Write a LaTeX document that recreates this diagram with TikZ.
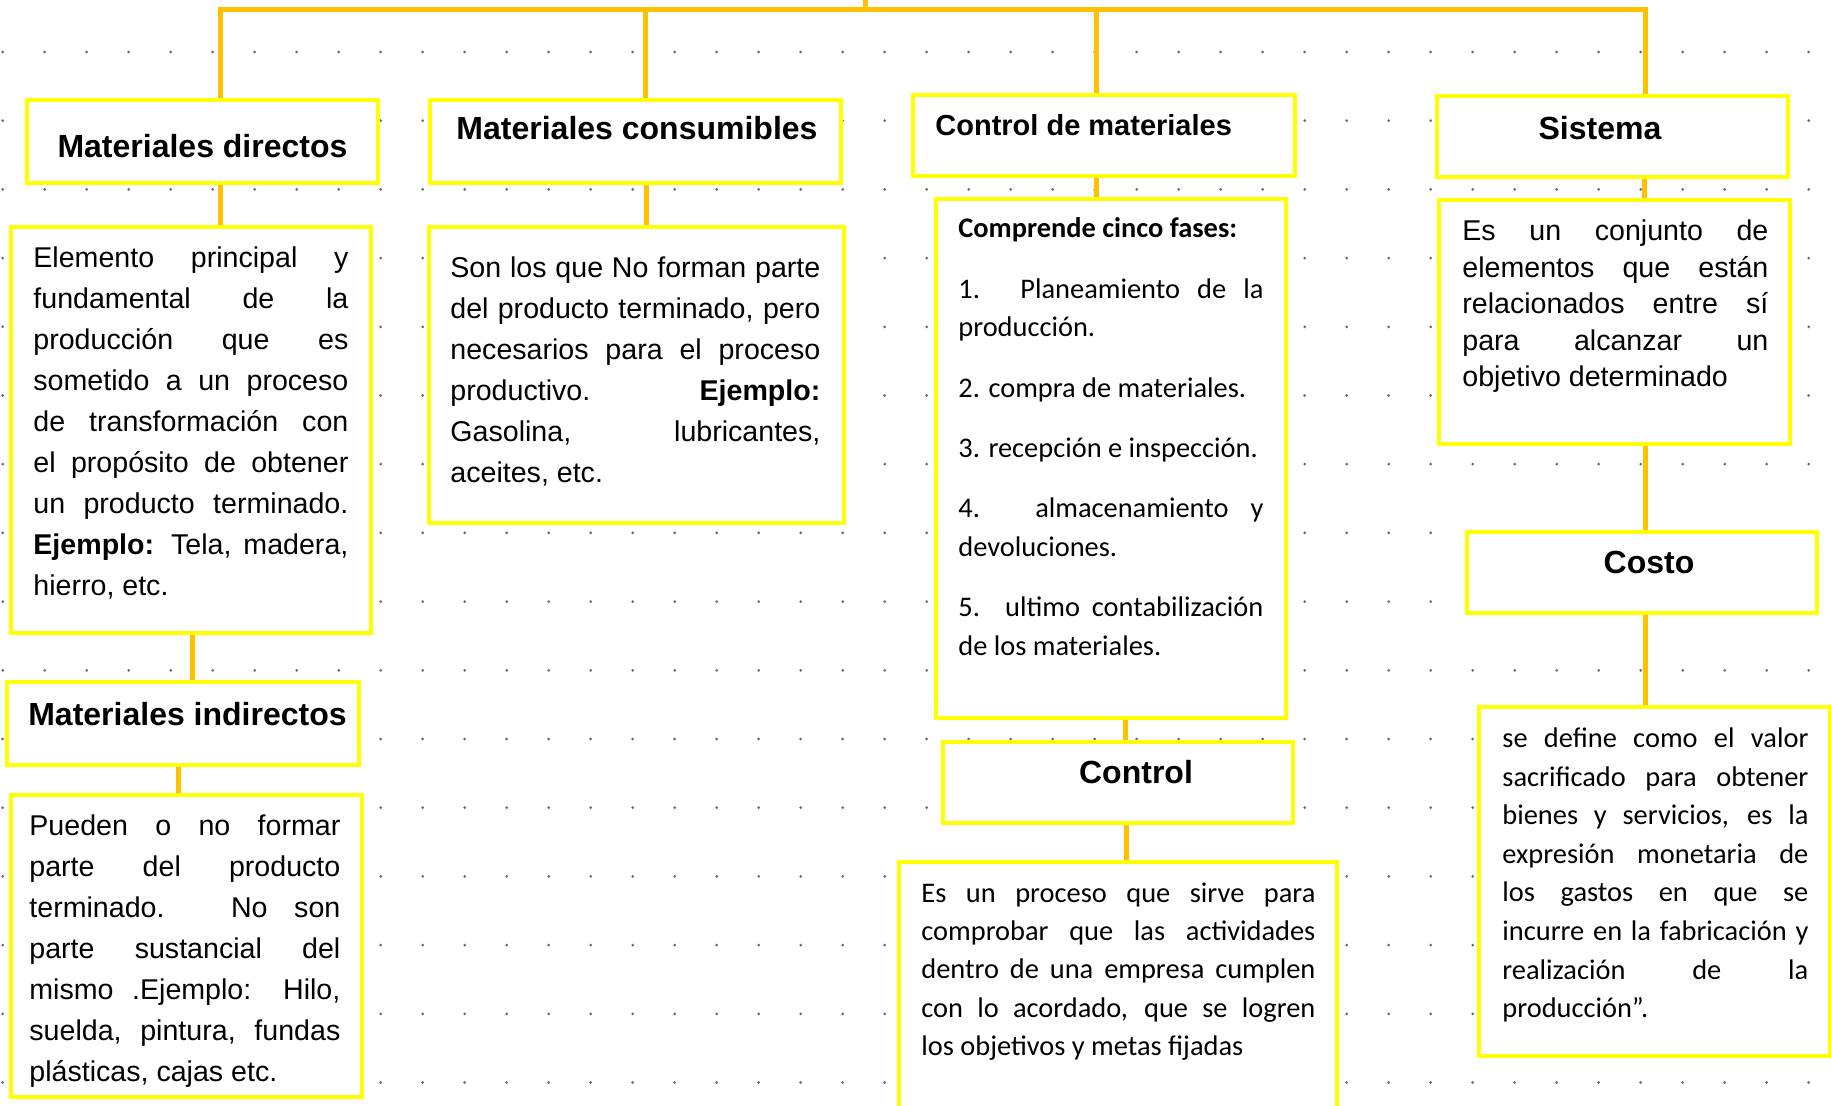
\documentclass[tikz,border=0pt]{standalone}
\usepackage{fontspec}
\setmainfont{Liberation Sans}
\newfontfamily\calibri{Carlito}
\usetikzlibrary{backgrounds}

\definecolor{amarillo}{HTML}{FFFF00}
\definecolor{naranja}{HTML}{FFC000}
\definecolor{punto}{HTML}{6A6A6A}

\tikzset{
  caja/.style={draw=amarillo, line width=2pt, fill=white, inner sep=0pt, outer sep=0pt},
  enlace/.style={draw=naranja, line width=2.5pt},
  puntos/.style={punto, line width=1.5pt, line cap=round, dash pattern=on 0pt off 21pt},
  titulo/.style={inner sep=0pt, anchor=base, font=\fontsize{16}{19}\selectfont\bfseries},
  cuerpo/.style={inner sep=0pt, anchor=base west, align=justify, font=\fontsize{14.3}{#1}\selectfont},
  cuerpoc/.style={inner sep=0pt, anchor=base west, align=justify, font=\calibri\fontsize{14.2}{#1}\selectfont},
}

\begin{document}
\begin{tikzpicture}[x=0.5pt,y=-0.5pt]
\useasboundingbox (0,0) rectangle (1831,1106);

% cajas
\node[caja, minimum width=175.5pt, minimum height=41.5pt] (directos)    at (202.5,141.5) {};
\node[caja, minimum width=180pt,   minimum height=203pt]  (dirdesc)     at (191,430)     {};
\node[caja, minimum width=176pt,   minimum height=41.5pt] (indirectos)  at (183,723.5)   {};
\node[caja, minimum width=175.5pt, minimum height=151pt]  (inddesc)     at (186.5,946)   {};

\node[caja, minimum width=205.5pt, minimum height=41.5pt] (consumibles) at (635.5,141.5) {};
\node[caja, minimum width=207.5pt, minimum height=148pt]  (consdesc)    at (636.5,375)   {};

\node[caja, minimum width=191pt,   minimum height=40.5pt] (ctrlmat)     at (1104,135.5)  {};
\node[caja, minimum width=175pt,   minimum height=259.5pt](fases)       at (1111,458.5)  {};
\node[caja, minimum width=175pt,   minimum height=40.5pt] (control)     at (1118,782.5)  {};
\node[caja, minimum width=219pt,   minimum height=129pt]  (ctrldesc)    at (1118,991)    {};

\node[caja, minimum width=175.5pt, minimum height=40.5pt] (sistema)     at (1612.5,136.5) {};
\node[caja, minimum width=175.5pt, minimum height=122pt]  (sisdesc)     at (1614.5,322)  {};
\node[caja, minimum width=175pt,   minimum height=40.5pt] (costo)       at (1642,572.5)  {};
\node[caja, minimum width=175.5pt, minimum height=174.5pt](costdesc)    at (1654.5,881.5) {};

% titulos
\node[titulo] (directos-t)    at (202.5,157.5) {Materiales directos};
\node[titulo] (indirectos-t)  at (187.5,725)   {Materiales indirectos};
\node[titulo] (consumibles-t) at (637,139.5)   {Materiales consumibles};
\node[titulo, anchor=base west, font=\fontsize{14.5}{17}\selectfont\bfseries] (ctrlmat-t) at (935,135.5) {Control de materiales};
\node[titulo] (control-t)     at (1136,783)    {Control};
\node[titulo] (sistema-t)     at (1600,139.5)  {Sistema};
\node[titulo] (costo-t)       at (1649,574)    {Costo};

% textos
\node[cuerpo=20.5pt, text width=157.5pt] (dirdesc-t) at (33,267.5) {Elemento principal y\linebreak
fundamental de la\linebreak producción que es\linebreak sometido a un proceso\linebreak
de transformación con\linebreak el propósito de obtener\linebreak un producto terminado.\linebreak
\textbf{Ejemplo:} Tela, madera,\linebreak hierro, etc.};
\node[cuerpo=20.5pt, text width=155.5pt] (inddesc-t) at (29,835) {Pueden o no formar\linebreak
parte del producto\linebreak terminado. No son\linebreak parte sustancial del\linebreak
mismo .Ejemplo: Hilo,\linebreak suelda, pintura, fundas\linebreak plásticas, cajas etc.};
\node[cuerpo=20.5pt, text width=185pt] (consdesc-t) at (450,277.5) {Son los que No forman parte\linebreak
del producto terminado, pero\linebreak necesarios para el proceso\linebreak
productivo. \textbf{Ejemplo:}\linebreak Gasolina, lubricantes,\linebreak aceites, etc.};
\node[cuerpoc=19.4pt, text width=152.5pt] (fases-t) at (958,238) {\setlength{\parskip}{10.7pt}%
\textbf{Comprende cinco fases:}\par
1. Planeamiento de la\linebreak producción.\par
2. compra de materiales.\par
\mbox{3. recepción e inspección.}\par
4. almacenamiento y\linebreak devoluciones.\par
5. ultimo contabilización\linebreak de los materiales.};
\node[cuerpoc=19.2pt, text width=197pt] (ctrldesc-t) at (921,902) {Es un proceso que sirve para\linebreak
comprobar que las actividades\linebreak dentro de una empresa cumplen\linebreak
con lo acordado, que se logren\linebreak los objetivos y metas fijadas};
\node[cuerpo=18.3pt, text width=153pt] (sisdesc-t) at (1462,240.5) {Es un conjunto de\linebreak
elementos que están\linebreak relacionados entre sí\linebreak para alcanzar un\linebreak
objetivo determinado};
\node[cuerpoc=19.3pt, text width=153pt] (costdesc-t) at (1502,747.5) {se define como el valor\linebreak
sacrificado para obtener\linebreak bienes y servicios, es la\linebreak expresión monetaria de\linebreak
los gastos en que se\linebreak incurre en la fabricación y\linebreak realización de la\linebreak
producción”.};

\begin{scope}[on background layer]
\fill[white] (0,0) rectangle (1831,1106);

\draw[puntos] (2.7,52)     -- (1831,52);
\draw[puntos] (2.7,120.7)  -- (1831,120.7);
\draw[puntos] (2.7,189.4)  -- (1831,189.4);
\draw[puntos] (2.7,258.1)  -- (1831,258.1);
\draw[puntos] (2.7,326.8)  -- (1831,326.8);
\draw[puntos] (2.7,395.5)  -- (1831,395.5);
\draw[puntos] (2.7,464.2)  -- (1831,464.2);
\draw[puntos] (2.7,532.9)  -- (1831,532.9);
\draw[puntos] (2.7,601.6)  -- (1831,601.6);
\draw[puntos] (2.7,670.3)  -- (1831,670.3);
\draw[puntos] (2.7,739)    -- (1831,739);
\draw[puntos] (2.7,807.7)  -- (1831,807.7);
\draw[puntos] (2.7,876.4)  -- (1831,876.4);
\draw[puntos] (2.7,945.1)  -- (1831,945.1);
\draw[puntos] (2.7,1013.8) -- (1831,1013.8);
\draw[puntos] (2.7,1082.5) -- (1831,1082.5);

% conectores
\coordinate (raiz)  at (865,-5);
\coordinate (barra) at (865,10);
\draw[enlace] (raiz) -- (barra);
\draw[enlace] (directos.north -| 220,0) |- (barra) -| (sistema.north -| 1645,0);
\draw[enlace] (barra -| 645,0)  -- (consumibles.north -| 645,0);
\draw[enlace] (barra -| 1096,0) -- (ctrlmat.north -| 1096,0);

\draw[enlace] (directos.south -| 220,0)    -- (dirdesc.north -| 220,0);
\draw[enlace] (dirdesc.south -| 192,0)     -- (indirectos.north -| 192,0);
\draw[enlace] (indirectos.south -| 178,0)  -- (inddesc.north -| 178,0);
\draw[enlace] (consumibles.south -| 646,0) -- (consdesc.north -| 646,0);
\draw[enlace] (ctrlmat.south -| 1096,0)    -- (fases.north -| 1096,0);
\draw[enlace] (fases.south -| 1125,0)      -- (control.north -| 1125,0);
\draw[enlace] (control.south -| 1126,0)    -- (ctrldesc.north -| 1126,0);
\draw[enlace] (sistema.south -| 1644,0)    -- (sisdesc.north -| 1644,0);
\draw[enlace] (sisdesc.south -| 1645,0)    -- (costo.north -| 1645,0);
\draw[enlace] (costo.south -| 1645,0)      -- (costdesc.north -| 1645,0);
\end{scope}
\end{tikzpicture}
\end{document}
